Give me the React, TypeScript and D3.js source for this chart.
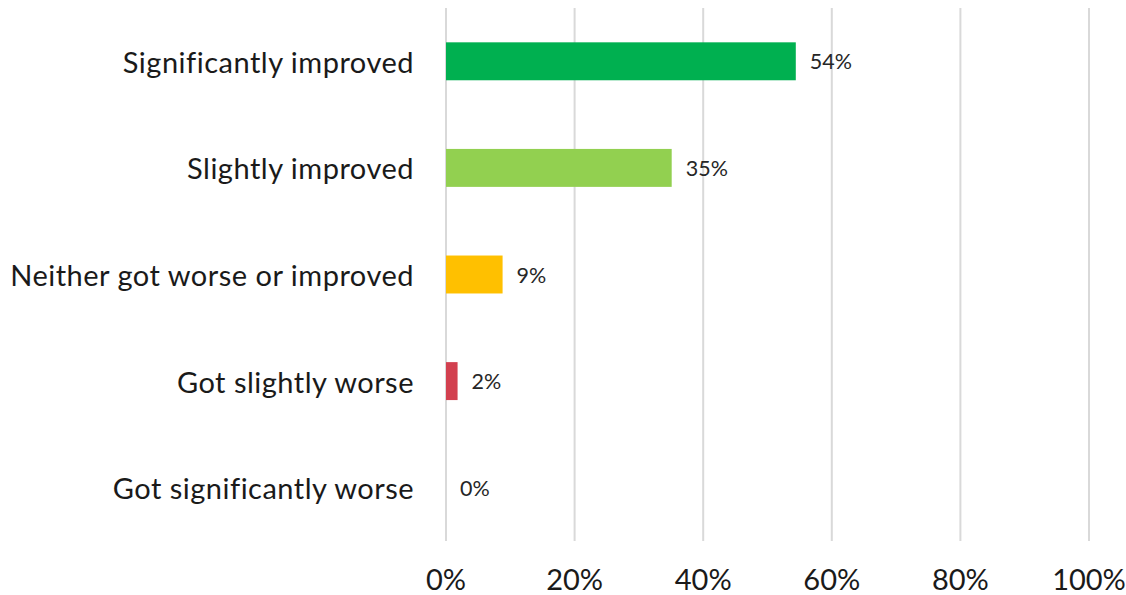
import React from "react";
import * as d3 from "d3";

const categories = [
  "Significantly improved",
  "Slightly improved",
  "Neither got worse or improved",
  "Got slightly worse",
  "Got significantly worse",
];
const values = [0.544, 0.351, 0.088, 0.018, 0];
const labels = ["54%", "35%", "9%", "2%", "0%"];
const colors = ["#00B050", "#92D050", "#FFC000", "#D2404F", "#7F7F7F"];
const ticks = [0, 0.2, 0.4, 0.6, 0.8, 1.0];

const W = 1126;
const H = 595;
const left = 446;
const right = 1089;
const top = 8;
const bottom = 541;
const FONT = "Lato, 'Open Sans', sans-serif";

export default function App() {
  const x = d3.scaleLinear().domain([0, 1]).range([left, right]);
  const y = d3
    .scaleBand<string>()
    .domain(categories)
    .range([top, bottom])
    .paddingInner(0.644)
    .paddingOuter(0.322);

  return (
    <svg
      width={W}
      height={H}
      style={{ position: "absolute", left: 0, top: 0, background: "#fff" }}
      fontFamily={FONT}
    >
      {ticks.map((t) => (
        <line
          key={"g" + t}
          x1={x(t)}
          x2={x(t)}
          y1={top}
          y2={bottom}
          stroke="#D9D9D9"
          strokeWidth={2}
        />
      ))}
      {categories.map((c, i) => (
        <g key={c}>
          {values[i] > 0 && (
            <rect
              x={x(0)}
              y={y(c)}
              width={x(values[i]) - x(0)}
              height={y.bandwidth()}
              fill={colors[i]}
            />
          )}
          <text
            x={414}
            y={(y(c) as number) + y.bandwidth() / 2}
            textAnchor="end"
            dominantBaseline="central"
            fontSize={29}
            letterSpacing={0.5}
            fill="#1a1a1a"
          >
            {c}
          </text>
          <text
            x={x(values[i]) + 14}
            y={(y(c) as number) + y.bandwidth() / 2}
            dominantBaseline="central"
            fontSize={21.5}
            fill="#262626"
          >
            {labels[i]}
          </text>
        </g>
      ))}
      {ticks.map((t) => (
        <text
          key={"t" + t}
          x={x(t)}
          y={590}
          textAnchor="middle"
          fontSize={29}
          fill="#1a1a1a"
        >
          {d3.format(".0%")(t)}
        </text>
      ))}
    </svg>
  );
}
